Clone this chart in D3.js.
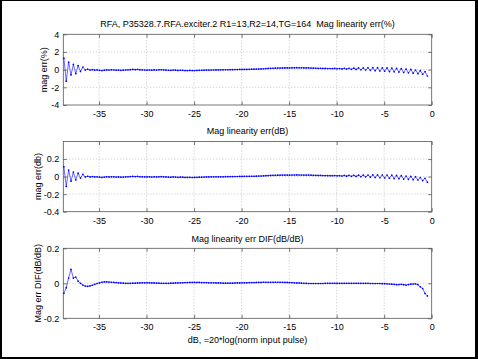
<!DOCTYPE html>
<html><head><meta charset="utf-8">
<script src="https://cdn.jsdelivr.net/npm/d3@7"></script>
<style>
html,body{margin:0;padding:0;background:#fff;}
svg{display:block;font-family:"Liberation Sans",Arial,sans-serif;}
text{white-space:pre;}
</style></head>
<body>
<svg id="chart" width="478" height="359"></svg>
<script>
// ---- data ----
const inputDb = [
-38.70,-38.45,-38.20,-37.95,-37.70,-37.45,-37.20,-36.95,-36.70,-36.45,
-36.20,-35.95,-35.70,-35.45,-35.20,-34.95,-34.70,-34.45,-34.20,-33.95,
-33.70,-33.45,-33.20,-32.95,-32.70,-32.45,-32.20,-31.95,-31.70,-31.45,
-31.20,-30.95,-30.70,-30.45,-30.20,-29.95,-29.70,-29.45,-29.20,-28.95,
-28.70,-28.45,-28.20,-27.95,-27.70,-27.45,-27.20,-26.95,-26.70,-26.45,
-26.20,-25.95,-25.70,-25.45,-25.20,-24.95,-24.70,-24.45,-24.20,-23.95,
-23.70,-23.45,-23.20,-22.95,-22.70,-22.45,-22.20,-21.95,-21.70,-21.45,
-21.20,-20.95,-20.70,-20.45,-20.20,-19.95,-19.70,-19.45,-19.20,-18.95,
-18.70,-18.45,-18.20,-17.95,-17.70,-17.45,-17.20,-16.95,-16.70,-16.45,
-16.20,-15.95,-15.70,-15.45,-15.20,-14.95,-14.70,-14.45,-14.20,-13.95,
-13.70,-13.45,-13.20,-12.95,-12.70,-12.45,-12.20,-11.95,-11.70,-11.45,
-11.20,-10.95,-10.70,-10.45,-10.20,-9.95,-9.70,-9.45,-9.20,-8.95,
-8.70,-8.45,-8.20,-7.95,-7.70,-7.45,-7.20,-6.95,-6.70,-6.45,
-6.20,-5.95,-5.70,-5.45,-5.20,-4.95,-4.70,-4.45,-4.20,-3.95,
-3.70,-3.45,-3.20,-2.95,-2.70,-2.45,-2.20,-1.95,-1.70,-1.45,
-1.20,-0.95,-0.70,-0.45];

const magErrPct = [
1.30,-1.30,0.85,-0.60,0.60,-0.45,0.45,-0.20,0.30,-0.05,
0.05,-0.05,0.00,-0.05,-0.03,-0.08,-0.10,-0.06,-0.03,-0.05,
-0.02,-0.04,-0.06,-0.05,-0.08,-0.06,-0.04,-0.02,0.00,0.02,
0.00,0.02,-0.02,-0.02,-0.04,-0.05,-0.04,-0.06,-0.03,-0.05,
-0.02,-0.01,-0.03,-0.05,-0.07,-0.08,-0.05,-0.06,-0.09,-0.07,
-0.08,-0.10,-0.10,-0.09,-0.11,-0.10,-0.09,-0.08,-0.07,-0.06,
-0.05,-0.05,-0.04,-0.04,-0.03,-0.03,-0.02,-0.02,-0.01,-0.01,
0.00,0.00,0.01,0.01,0.02,0.02,0.03,0.03,0.04,0.05,
0.05,0.06,0.07,0.08,0.10,0.12,0.14,0.15,0.16,0.17,
0.18,0.18,0.19,0.19,0.20,0.20,0.21,0.21,0.22,0.21,
0.21,0.20,0.20,0.19,0.18,0.17,0.16,0.15,0.15,0.14,
0.14,0.13,0.13,0.12,0.14,0.10,0.13,0.08,0.15,0.06,
0.16,0.04,0.17,0.02,0.19,-0.01,0.20,-0.04,0.21,-0.08,
0.22,-0.12,0.22,-0.15,0.21,-0.18,0.20,-0.22,0.18,-0.25,
0.15,-0.28,0.11,-0.32,0.07,-0.36,0.02,-0.40,-0.04,-0.45,
-0.12,-0.52,-0.22,-0.72];

const magErrDb = [
0.113,-0.113,0.074,-0.052,0.052,-0.039,0.039,-0.017,0.026,-0.004,
0.004,-0.004,0.000,-0.004,-0.003,-0.007,-0.009,-0.005,-0.003,-0.004,
-0.002,-0.003,-0.005,-0.004,-0.007,-0.005,-0.003,-0.002,0.000,0.002,
0.000,0.002,-0.002,-0.002,-0.003,-0.004,-0.003,-0.005,-0.003,-0.004,
-0.002,-0.001,-0.003,-0.004,-0.006,-0.007,-0.004,-0.005,-0.008,-0.006,
-0.007,-0.009,-0.009,-0.008,-0.010,-0.009,-0.008,-0.007,-0.006,-0.005,
-0.004,-0.004,-0.003,-0.003,-0.003,-0.003,-0.002,-0.002,-0.001,-0.001,
0.000,0.000,0.001,0.001,0.002,0.002,0.003,0.003,0.003,0.004,
0.004,0.005,0.006,0.007,0.009,0.010,0.012,0.013,0.014,0.015,
0.016,0.016,0.017,0.017,0.017,0.017,0.018,0.018,0.019,0.018,
0.018,0.017,0.017,0.017,0.016,0.015,0.014,0.013,0.013,0.012,
0.012,0.011,0.011,0.010,0.012,0.009,0.011,0.007,0.013,0.005,
0.014,0.003,0.015,0.002,0.016,-0.001,0.017,-0.003,0.018,-0.007,
0.019,-0.010,0.019,-0.013,0.018,-0.016,0.017,-0.019,0.016,-0.022,
0.013,-0.024,0.010,-0.028,0.006,-0.031,0.002,-0.035,-0.003,-0.039,
-0.010,-0.045,-0.019,-0.063];

const magErrDif = [
-0.057,-0.025,0.030,0.080,0.030,0.036,0.012,0.000,-0.010,-0.016,
-0.017,-0.015,-0.011,-0.006,-0.001,0.003,0.006,0.008,0.008,0.007,
0.006,0.005,0.004,0.003,0.002,0.001,0.000,0.000,0.000,0.001,
0.001,0.002,0.002,0.003,0.003,0.003,0.003,0.002,0.002,0.001,
0.001,0.000,0.000,0.000,0.000,0.001,0.001,0.002,0.002,0.003,
0.003,0.004,0.004,0.005,0.005,0.005,0.005,0.005,0.004,0.004,
0.004,0.003,0.003,0.003,0.002,0.002,0.002,0.001,0.001,0.001,
0.001,0.001,0.002,0.002,0.002,0.003,0.003,0.003,0.004,0.004,
0.004,0.005,0.005,0.005,0.006,0.006,0.006,0.006,0.006,0.006,
0.006,0.006,0.006,0.005,0.005,0.004,0.004,0.003,0.002,0.002,
0.001,0.000,0.000,-0.001,-0.001,-0.001,-0.001,-0.001,-0.001,-0.001,
0.000,0.000,0.000,0.000,0.000,0.000,0.000,0.000,0.000,0.000,
0.000,0.000,0.000,0.000,0.000,0.000,0.000,0.000,0.000,-0.001,
-0.001,-0.001,-0.001,-0.001,-0.002,-0.002,-0.003,-0.004,-0.005,-0.006,
-0.008,-0.007,-0.006,-0.008,-0.010,-0.007,-0.005,-0.004,-0.003,-0.008,
-0.020,-0.030,-0.058,-0.072];

const xTicks = [-35,-30,-25,-20,-15,-10,-5,0];
const yTicksPct = [-4,-2,0,2,4];
const yTicksDb = [-0.4,-0.2,0,0.2];
const yTicksDif = [-0.2,0,0.2];
const titles = [
  "RFA, P35328.7.RFA.exciter.2 R1=13,R2=14,TG=164  Mag linearity err(%)",
  "Mag linearity err(dB)",
  "Mag linearity err DIF(dB/dB)"
];
const yLabels = ["mag err(%)","mag err(db)","Mag err DIF(dB/dB)"];
const xLabel = "dB, =20*log(norm input pulse)";

// ---- layout ----
const W = 478, H = 359;
const svg = d3.select("#chart");
svg.append("rect").attr("x",0).attr("y",0).attr("width",W).attr("height",H).attr("fill","#000");
svg.append("rect").attr("x",2).attr("y",1).attr("width",473).attr("height",356).attr("fill","#fff");

const left = 63.3, right = 431.7;
const x = d3.scaleLinear().domain([-38.76, 0]).range([left, right]);

const panels = [
  {top:34.3, bottom:105, domain:[-4,4], ticks:yTicksPct, vals:magErrPct, titleY:27.4, ylx:47.3},
  {top:141.5, bottom:211.7, domain:[-0.4,0.4], ticks:yTicksDb, vals:magErrDb, titleY:133.7, ylx:41},
  {top:248.3, bottom:318.3, domain:[-0.2,0.2], ticks:yTicksDif, vals:magErrDif, titleY:241.5, ylx:40.5}
];

const fmt = v => (Math.abs(v) < 1e-9 ? "0" : String(+v.toFixed(2)));
const FS = 9;

panels.forEach((p, i) => {
  const y = d3.scaleLinear().domain(p.domain).range([p.bottom, p.top]);
  const g = svg.append("g");
  const h = p.bottom - p.top;

  // grid
  g.append("g").selectAll("line").data(xTicks.filter(t => t > -38.76 && t < 0)).join("line")
    .attr("x1", d => x(d)).attr("x2", d => x(d)).attr("y1", p.top).attr("y2", p.bottom)
    .attr("stroke", "#b8b8b8").attr("stroke-width", 0.8).attr("stroke-dasharray", "1,2");
  g.append("g").selectAll("line").data(p.ticks.filter(t => t > p.domain[0] && t < p.domain[1])).join("line")
    .attr("x1", left).attr("x2", right).attr("y1", d => y(d)).attr("y2", d => y(d))
    .attr("stroke", "#b8b8b8").attr("stroke-width", 0.8).attr("stroke-dasharray", "1,2");

  // axes
  const xb = g.append("g").attr("transform", `translate(0,${p.bottom})`)
    .call(d3.axisBottom(x).tickValues(xTicks).tickSize(-3.5).tickPadding(5.6).tickFormat(d => String(d)));
  const xt = g.append("g").attr("transform", `translate(0,${p.top})`)
    .call(d3.axisTop(x).tickValues(xTicks).tickSize(-3.5).tickFormat(""));
  const yl = g.append("g").attr("transform", `translate(${left},0)`)
    .call(d3.axisLeft(y).tickValues(p.ticks).tickSize(-3.5).tickPadding(4).tickFormat(fmt));
  const yr = g.append("g").attr("transform", `translate(${right},0)`)
    .call(d3.axisRight(y).tickValues(p.ticks).tickSize(-3.5).tickFormat(""));
  [xb, xt, yl, yr].forEach(a => {
    a.select(".domain").remove();
    a.selectAll(".tick line").attr("stroke", "#555").attr("stroke-width", 0.8);
    a.selectAll("text").attr("font-size", FS).attr("fill", "#000")
      .attr("font-family", '"Liberation Sans",Arial,sans-serif');
  });

  // box
  g.append("rect").attr("x", left).attr("y", p.top).attr("width", right - left).attr("height", h)
    .attr("fill", "none").attr("stroke", "#555").attr("stroke-width", 0.8);

  // data
  const pts = inputDb.map((d, k) => [d, p.vals[k]]);
  const line = d3.line().x(d => x(d[0])).y(d => y(d[1]));
  g.append("path").attr("d", line(pts)).attr("fill", "none")
    .attr("stroke", "#0000ff").attr("stroke-width", 0.6);
  g.append("g").selectAll("circle").data(pts).join("circle")
    .attr("cx", d => x(d[0])).attr("cy", d => y(d[1])).attr("r", 0.85).attr("fill", "#0000ff");

  // title
  svg.append("text").attr("x", (left + right) / 2).attr("y", p.titleY)
    .attr("text-anchor", "middle").attr("font-size", FS).attr("fill", "#000").text(titles[i]);

  // y label
  svg.append("text").attr("transform", `translate(${p.ylx},${(p.top + p.bottom) / 2}) rotate(-90)`)
    .attr("text-anchor", "middle").attr("font-size", FS).attr("fill", "#000").text(yLabels[i]);
});

svg.append("text").attr("x", (left + right) / 2).attr("y", 342.7)
  .attr("text-anchor", "middle").attr("font-size", FS).attr("fill", "#000").text(xLabel);
</script>
</body></html>
